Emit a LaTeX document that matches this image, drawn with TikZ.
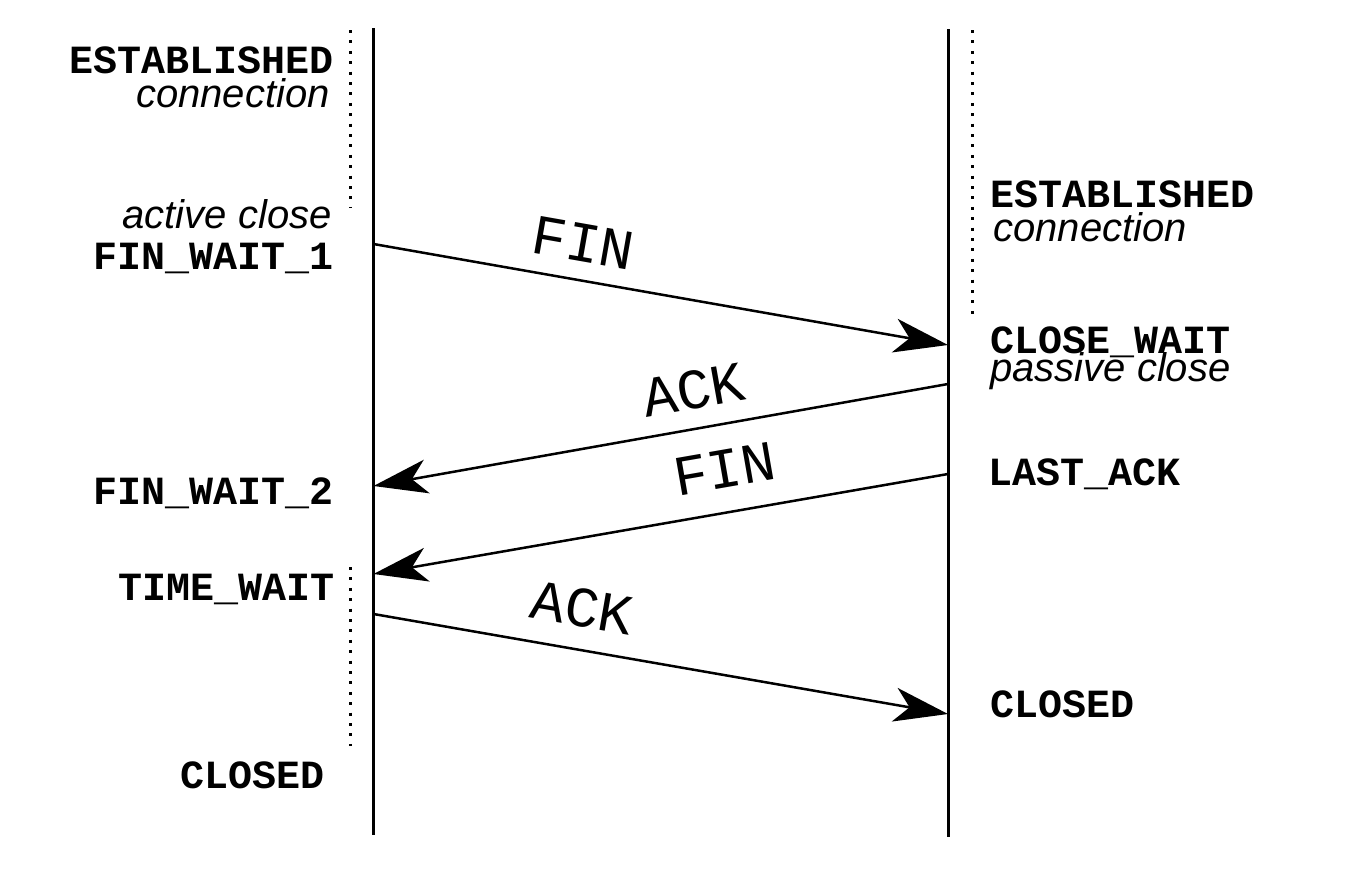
\documentclass[tikz,border=0pt]{standalone}
\usepackage{fontspec}
\setmainfont{Liberation Sans}
\newfontfamily\monofont{Liberation Mono}
\usetikzlibrary{arrows.meta}
\begin{document}
\begin{tikzpicture}[x=0.5pt,y=-0.5pt,
  state/.style={font=\monofont\bfseries\fontsize{20pt}{24pt}\selectfont, inner sep=0pt},
  note/.style={font=\itshape\fontsize{20pt}{24pt}\selectfont, inner sep=0pt},
  msg/.style={font=\monofont\fontsize{28.5pt}{32pt}\selectfont, inner sep=0pt, sloped},
  lifeline/.style={line width=1.5pt},
  msgline/.style={line width=1.25pt, -{Stealth[length=27pt,width=17pt,inset=7.5pt]}},
  dots/.style={line width=1.5pt, dash pattern=on 1.5pt off 3.7pt}]
\useasboundingbox (0,0) rectangle (1362,884);
% lifelines
\coordinate (Ltop) at (373.5,28);
\coordinate (Lbot) at (373.5,835);
\coordinate (Rtop) at (948,29);
\coordinate (Rbot) at (948,837);
\draw[lifeline] (Ltop) -- (Lbot);
\draw[lifeline] (Rtop) -- (Rbot);
% dotted state spans
\coordinate (d1s) at (350,30);
\coordinate (d1e) at (350,208);
\coordinate (d2s) at (972,30);
\coordinate (d2e) at (972,320);
\coordinate (d3s) at (350,567);
\coordinate (d3e) at (350,746);
\draw[dots] (d1s) -- (d1e);
\draw[dots] (d2s) -- (d2e);
\draw[dots] (d3s) -- (d3e);
% left states
\node[state, anchor=base east] (lest) at (334,73) {ESTABLISHED};
\node[note, anchor=base east] (lcon) at (330,107) {connection};
\node[note, anchor=base east] (lact) at (332,228) {active close};
\node[state, anchor=base east] (fw1) at (334,269) {FIN\_WAIT\_1};
\node[state, anchor=base east] (fw2) at (334,504) {FIN\_WAIT\_2};
\node[state, anchor=base east] (tw) at (335,600) {TIME\_WAIT};
\node[state, anchor=base east] (lclosed) at (325,788) {CLOSED};
% right states
\node[state, anchor=base west] (rest) at (990,207) {ESTABLISHED};
\node[note, anchor=base west] (rcon) at (993,241) {connection};
\node[state, anchor=base west] (cw) at (990,353) {CLOSE\_WAIT};
\node[note, anchor=base west] (pas) at (990,381) {passive close};
\node[state, anchor=base west] (la) at (988,485) {LAST\_ACK};
\node[state, anchor=base west] (rclosed) at (990,717) {CLOSED};
% messages
\coordinate (f1s) at (373.5,244);
\coordinate (f1e) at (948,345);
\coordinate (a1s) at (948,384);
\coordinate (a1e) at (373.5,486);
\coordinate (f2s) at (948,474);
\coordinate (f2e) at (373.5,574);
\coordinate (a2s) at (373.5,614);
\coordinate (a2e) at (948,714);
\draw[msgline] (f1s) -- node[msg, pos=0.354, above=8.5pt] (fin1) {FIN} (f1e);
\draw[msgline] (a1s) -- node[msg, pos=0.431, above=8.75pt] (ack1) {ACK} (a1e);
\draw[msgline] (f2s) -- node[msg, pos=0.376, above=11.5pt] (fin2) {FIN} (f2e);
\draw[msgline] (a2s) -- node[msg, pos=0.351, above=10.5pt] (ack2) {ACK} (a2e);
\end{tikzpicture}
\end{document}
